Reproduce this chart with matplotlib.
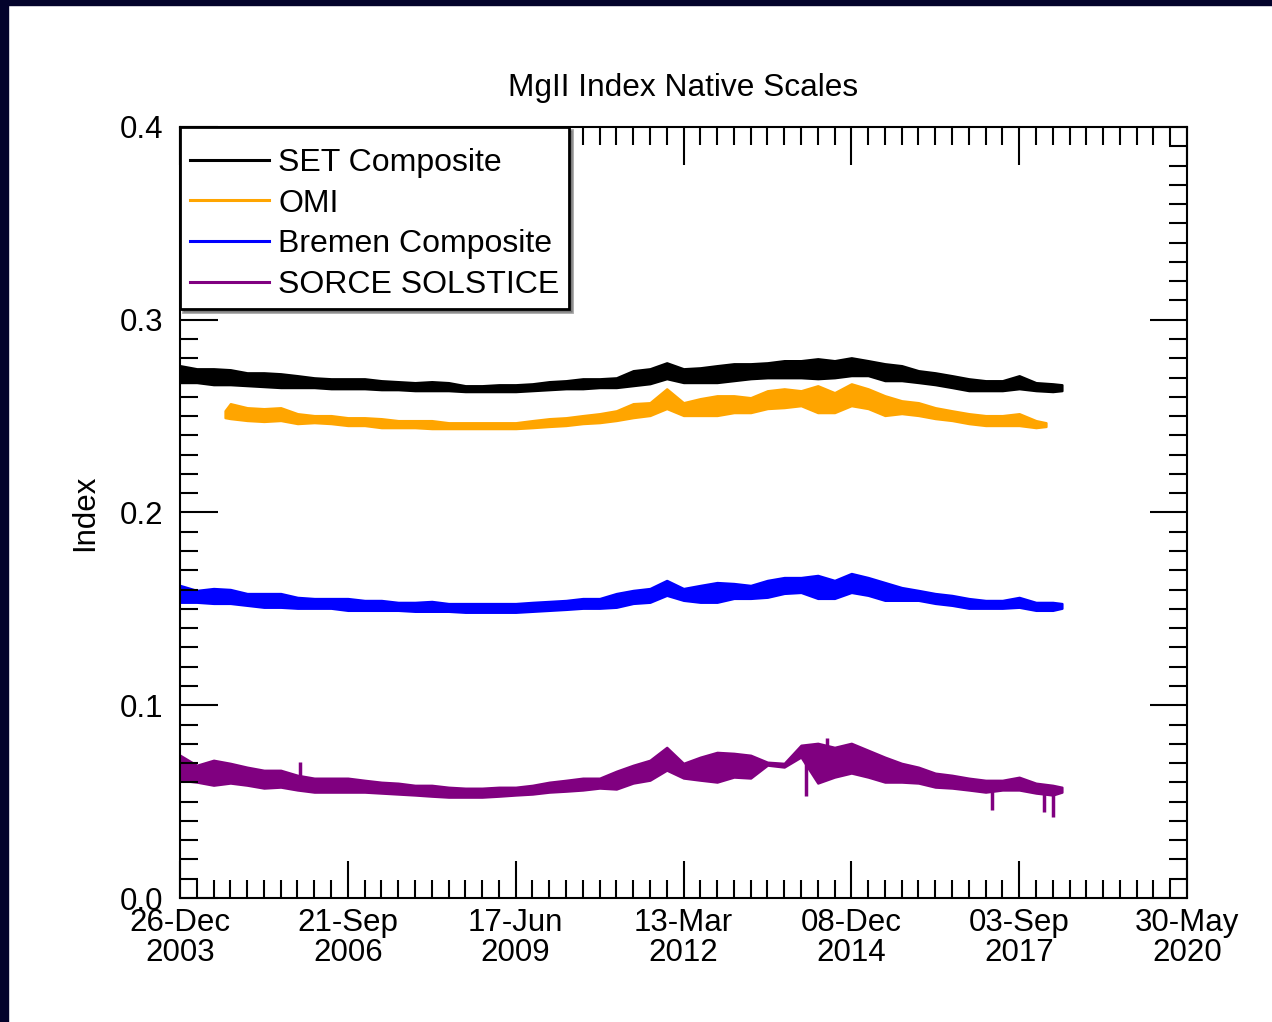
import datetime as dt
import matplotlib.pyplot as plt
import numpy as np
from matplotlib.lines import Line2D
from matplotlib.patches import Rectangle
from matplotlib.ticker import MultipleLocator, FuncFormatter

plt.rcParams['font.family'] = ['Liberation Sans', 'DejaVu Sans']

# day 0 of the time axis
t0 = dt.date(2003, 12, 26)

# sample days (days since t0) and the low/high edge of each daily-noise band
days = np.append(np.arange(0, 5300, 100), 5255)
omi_days = np.concatenate([[268], np.arange(300, 5200, 100), [5160]])

set_hi = [0.2762, 0.2746, 0.2746, 0.2741, 0.2725, 0.2725, 0.2720, 0.2710, 0.2699, 0.2694,
          0.2694, 0.2694, 0.2684, 0.2679, 0.2674, 0.2679, 0.2674, 0.2658, 0.2658, 0.2663,
          0.2663, 0.2668, 0.2679, 0.2684, 0.2694, 0.2694, 0.2699, 0.2736, 0.2746, 0.2777,
          0.2746, 0.2751, 0.2762, 0.2772, 0.2772, 0.2777, 0.2788, 0.2788, 0.2798, 0.2788,
          0.2803, 0.2788, 0.2772, 0.2762, 0.2736, 0.2725, 0.2710, 0.2694, 0.2684, 0.2684,
          0.2710, 0.2674, 0.2668, 0.2663]
set_lo = [0.2674, 0.2674, 0.2663, 0.2663, 0.2658, 0.2653, 0.2648, 0.2648, 0.2648, 0.2642,
          0.2642, 0.2642, 0.2637, 0.2637, 0.2632, 0.2632, 0.2632, 0.2627, 0.2627, 0.2627,
          0.2627, 0.2632, 0.2637, 0.2642, 0.2642, 0.2648, 0.2648, 0.2658, 0.2668, 0.2694,
          0.2674, 0.2674, 0.2674, 0.2684, 0.2694, 0.2699, 0.2699, 0.2699, 0.2694, 0.2699,
          0.2710, 0.2710, 0.2684, 0.2684, 0.2674, 0.2663, 0.2648, 0.2632, 0.2632, 0.2632,
          0.2642, 0.2632, 0.2627, 0.2632]

omi_hi = [0.2528, 0.2565, 0.2544, 0.2539, 0.2544, 0.2513, 0.2503, 0.2503, 0.2492, 0.2492,
          0.2487, 0.2477, 0.2477, 0.2477, 0.2466, 0.2466, 0.2466, 0.2466, 0.2466, 0.2477,
          0.2487, 0.2492, 0.2503, 0.2513, 0.2528, 0.2565, 0.2570, 0.2642, 0.2570, 0.2591,
          0.2606, 0.2606, 0.2596, 0.2632, 0.2642, 0.2632, 0.2658, 0.2622, 0.2668, 0.2642,
          0.2606, 0.2580, 0.2570, 0.2544, 0.2528, 0.2513, 0.2503, 0.2503, 0.2513, 0.2477,
          0.2466]
omi_lo = [0.2492, 0.2487, 0.2477, 0.2472, 0.2477, 0.2461, 0.2466, 0.2461, 0.2451, 0.2451,
          0.2440, 0.2440, 0.2440, 0.2435, 0.2435, 0.2435, 0.2435, 0.2435, 0.2435, 0.2440,
          0.2446, 0.2451, 0.2461, 0.2466, 0.2477, 0.2492, 0.2503, 0.2539, 0.2503, 0.2503,
          0.2503, 0.2518, 0.2518, 0.2539, 0.2544, 0.2554, 0.2518, 0.2518, 0.2554, 0.2539,
          0.2503, 0.2513, 0.2503, 0.2487, 0.2477, 0.2461, 0.2451, 0.2451, 0.2451, 0.2440,
          0.2446]

bremen_hi = [0.1622, 0.1596, 0.1606, 0.1601, 0.1580, 0.1580, 0.1580, 0.1560, 0.1554, 0.1554,
             0.1554, 0.1544, 0.1544, 0.1534, 0.1534, 0.1539, 0.1528, 0.1528, 0.1528, 0.1528,
             0.1528, 0.1534, 0.1539, 0.1544, 0.1554, 0.1554, 0.1580, 0.1596, 0.1606, 0.1648,
             0.1606, 0.1622, 0.1637, 0.1632, 0.1622, 0.1648, 0.1663, 0.1663, 0.1674, 0.1648,
             0.1684, 0.1663, 0.1637, 0.1611, 0.1596, 0.1580, 0.1570, 0.1554, 0.1544, 0.1544,
             0.1560, 0.1534, 0.1534, 0.1528]
bremen_lo = [0.1534, 0.1534, 0.1528, 0.1528, 0.1518, 0.1508, 0.1508, 0.1503, 0.1503, 0.1503,
             0.1492, 0.1492, 0.1492, 0.1492, 0.1487, 0.1487, 0.1487, 0.1482, 0.1482, 0.1482,
             0.1482, 0.1487, 0.1492, 0.1497, 0.1503, 0.1503, 0.1508, 0.1528, 0.1534, 0.1570,
             0.1544, 0.1534, 0.1534, 0.1554, 0.1554, 0.1560, 0.1580, 0.1585, 0.1554, 0.1554,
             0.1585, 0.1570, 0.1544, 0.1544, 0.1544, 0.1528, 0.1518, 0.1503, 0.1503, 0.1503,
             0.1508, 0.1492, 0.1492, 0.1503]

sorce_hi = [0.0741, 0.0689, 0.0715, 0.0699, 0.0679, 0.0663, 0.0663, 0.0637, 0.0622, 0.0622,
            0.0622, 0.0611, 0.0601, 0.0596, 0.0585, 0.0585, 0.0575, 0.0570, 0.0570, 0.0575,
            0.0575, 0.0585, 0.0601, 0.0611, 0.0622, 0.0622, 0.0658, 0.0689, 0.0715, 0.0782,
            0.0699, 0.0731, 0.0756, 0.0751, 0.0741, 0.0705, 0.0699, 0.0793, 0.0803, 0.0782,
            0.0803, 0.0767, 0.0731, 0.0699, 0.0679, 0.0648, 0.0637, 0.0622, 0.0611, 0.0611,
            0.0627, 0.0596, 0.0585, 0.0575]
sorce_lo = [0.0611, 0.0601, 0.0585, 0.0596, 0.0585, 0.0570, 0.0575, 0.0560, 0.0549, 0.0549,
            0.0549, 0.0549, 0.0544, 0.0539, 0.0534, 0.0528, 0.0523, 0.0523, 0.0523, 0.0528,
            0.0534, 0.0539, 0.0549, 0.0554, 0.0560, 0.0570, 0.0565, 0.0596, 0.0611, 0.0663,
            0.0622, 0.0611, 0.0601, 0.0627, 0.0622, 0.0689, 0.0679, 0.0731, 0.0596, 0.0627,
            0.0648, 0.0627, 0.0601, 0.0601, 0.0596, 0.0575, 0.0570, 0.0560, 0.0549, 0.0560,
            0.0560, 0.0544, 0.0534, 0.0549]

# isolated outliers in the SOLSTICE record
spike_days = [715, 3729, 3855, 4836, 5150, 5202]
spike_vals = [0.0705, 0.0528, 0.0829, 0.0456, 0.0446, 0.0420]

names = ['SET Composite', 'OMI', 'Bremen Composite', 'SORCE SOLSTICE']
colors = ['black', '#FFA500', '#0000FF', '#800080']


def day_label(d, pos):
    t = t0 + dt.timedelta(days=int(round(d)))
    return t.strftime('%d-%b\n%Y')


fig = plt.figure(figsize=(12.72, 10.22), dpi=100)
ax = fig.add_axes([180 / 1272, 124 / 1022, 1007 / 1272, 771 / 1022])

bands = [(days, set_lo, set_hi), (omi_days, omi_lo, omi_hi),
         (days, bremen_lo, bremen_hi), (days, sorce_lo, sorce_hi)]
for (d, lo, hi), c in zip(bands, colors):
    ax.fill_between(d, lo, hi, color=c, lw=1.6)

sorce_mid = (np.array(sorce_lo) + np.array(sorce_hi)) / 2
ax.vlines(spike_days, np.interp(spike_days, days, sorce_mid), spike_vals,
          color=colors[3], lw=2.5)

ax.set_xlim(0, 6000)
ax.set_ylim(0, 0.4)
ax.xaxis.set_major_locator(MultipleLocator(1000))
ax.xaxis.set_minor_locator(MultipleLocator(100))
ax.yaxis.set_major_locator(MultipleLocator(0.1))
ax.yaxis.set_minor_locator(MultipleLocator(0.01))
ax.xaxis.set_major_formatter(FuncFormatter(day_label))
ax.yaxis.set_major_formatter(FuncFormatter(lambda v, p: f'{v:.1f}'))

ax.tick_params(which='both', direction='in', top=True, right=True,
               width=1.5, labelsize=22.5, colors='black')
ax.tick_params(which='major', length=27)
ax.tick_params(which='minor', length=13)
ax.tick_params(axis='y', pad=12)
ax.tick_params(axis='x', pad=7)
for s in ax.spines.values():
    s.set_linewidth(1.5)

ax.set_title('MgII Index Native Scales', fontsize=22.8, pad=22)
ax.set_ylabel('Index', fontsize=22.5, labelpad=14)

# a tiny blank title leaves the extra space above the first row
handles = [Line2D([], [], color=c, lw=2.2) for c in colors]
leg = ax.legend(handles, names, loc='upper left', bbox_to_anchor=(0, 1),
                borderaxespad=0, fancybox=False, edgecolor='black', framealpha=1,
                shadow=True, fontsize=23.0, handlelength=2.5, handletextpad=0.28,
                labelspacing=0.33, borderpad=0.3, title=' ', title_fontsize=1)
leg.get_frame().set_linewidth(2)

# dark frame along the left and top edges
navy = '#03032b'
fig.patches.append(Rectangle((0, 0), 8 / 1272, 1, transform=fig.transFigure,
                             color=navy, zorder=10))
fig.patches.append(Rectangle((0, 1 - 5 / 1022), 1, 5 / 1022, transform=fig.transFigure,
                             color=navy, zorder=10))

fig.canvas.draw()
plt.setp(ax.get_xticklabels(), linespacing=1.0)

fig.savefig('out.png', dpi=100)
